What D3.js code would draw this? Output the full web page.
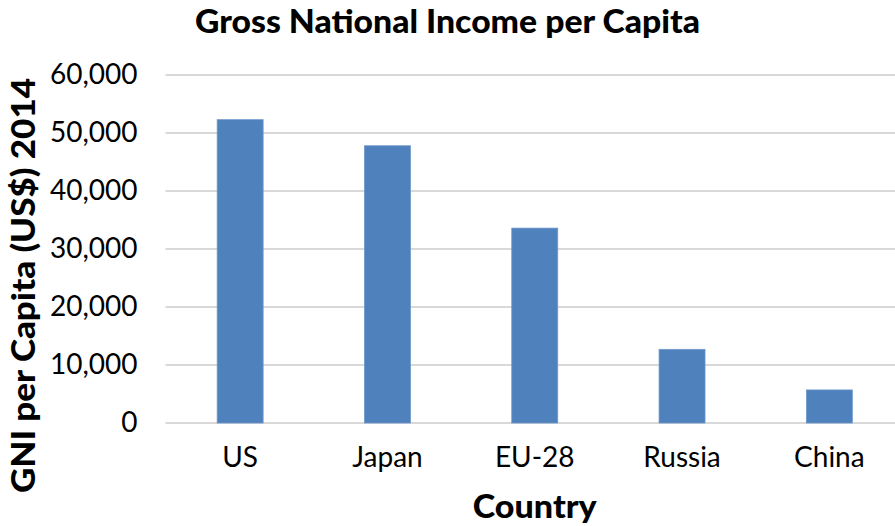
<!DOCTYPE html>
<html>
<head>
<meta charset="utf-8">
<script src="https://cdn.jsdelivr.net/npm/d3@7"></script>
<style>
  body { margin: 0; background: #fff; }
  text { font-family: Lato, "Open Sans", sans-serif; fill: #000; }
</style>
</head>
<body>
<div id="chart"></div>
<script>
// data
let countries = ["US", "Japan", "EU-28", "Russia", "China"];
let gniValues = [52300, 47800, 33600, 12700, 5700];
let yTicks = [0, 10000, 20000, 30000, 40000, 50000, 60000];

let W = 895, H = 526;
let margin = {top: 75, right: -8, bottom: 103, left: 166.5};
let width = W - margin.left - margin.right,
    height = H - margin.top - margin.bottom;

let svg = d3.select("#chart")
  .append("svg")
    .attr("width", W)
    .attr("height", H);

let g = svg.append("g")
    .attr("transform", "translate(" + margin.left + "," + margin.top + ")");

// scales
let x = d3.scaleBand()
    .domain(countries)
    .range([0, width])
    .paddingInner(0.688)
    .paddingOuter(0.344);

let y = d3.scaleLinear()
    .domain([0, 60000])
    .range([height, 0]);

// gridlines (including the zero line)
g.append("g")
  .selectAll("line")
  .data(yTicks)
  .enter().append("line")
    .attr("x1", -1)
    .attr("x2", W - margin.left)
    .attr("y1", d => y(d))
    .attr("y2", d => y(d))
    .attr("stroke", "#d9d9d9")
    .attr("stroke-width", 2);

// y axis labels
let yAxis = g.append("g")
    .call(d3.axisLeft(y).tickValues(yTicks).tickSize(0).tickPadding(29)
      .tickFormat(d3.format(",")));
yAxis.select(".domain").remove();
yAxis.selectAll("text")
    .attr("font-size", 28)
    .attr("font-family", "Lato, sans-serif")
    .attr("fill", "#000");

// x axis labels
let xAxis = g.append("g")
    .attr("transform", "translate(0," + height + ")")
    .call(d3.axisBottom(x).tickSize(0).tickPadding(24));
xAxis.select(".domain").remove();
xAxis.selectAll("text")
    .attr("font-size", 28)
    .attr("font-family", "Lato, sans-serif")
    .attr("fill", "#000");

// bars
g.append("g")
  .selectAll("rect")
  .data(countries)
  .enter().append("rect")
    .attr("x", d => x(d))
    .attr("y", (d, i) => y(gniValues[i]))
    .attr("width", x.bandwidth())
    .attr("height", (d, i) => height - y(gniValues[i]))
    .attr("fill", "#4f81bd")
    .attr("stroke", "#6d97cb")
    .attr("stroke-width", 0.8);

// title
svg.append("text")
    .attr("x", W / 2)
    .attr("y", 33)
    .attr("text-anchor", "middle")
    .attr("font-size", 33)
    .attr("font-weight", 900)
    .attr("textLength", 505)
    .attr("lengthAdjust", "spacingAndGlyphs")
    .text("Gross National Income per Capita");

// axis titles
svg.append("text")
    .attr("x", margin.left + width / 2)
    .attr("y", 518)
    .attr("text-anchor", "middle")
    .attr("font-size", 33)
    .attr("font-weight", 900)
    .attr("textLength", 124)
    .attr("lengthAdjust", "spacingAndGlyphs")
    .text("Country");

svg.append("text")
    .attr("transform", "translate(35,285.5) rotate(-90)")
    .attr("text-anchor", "middle")
    .attr("font-size", 33)
    .attr("font-weight", 900)
    .attr("textLength", 415)
    .attr("lengthAdjust", "spacingAndGlyphs")
    .text("GNI per Capita (US$) 2014");
</script>
</body>
</html>
